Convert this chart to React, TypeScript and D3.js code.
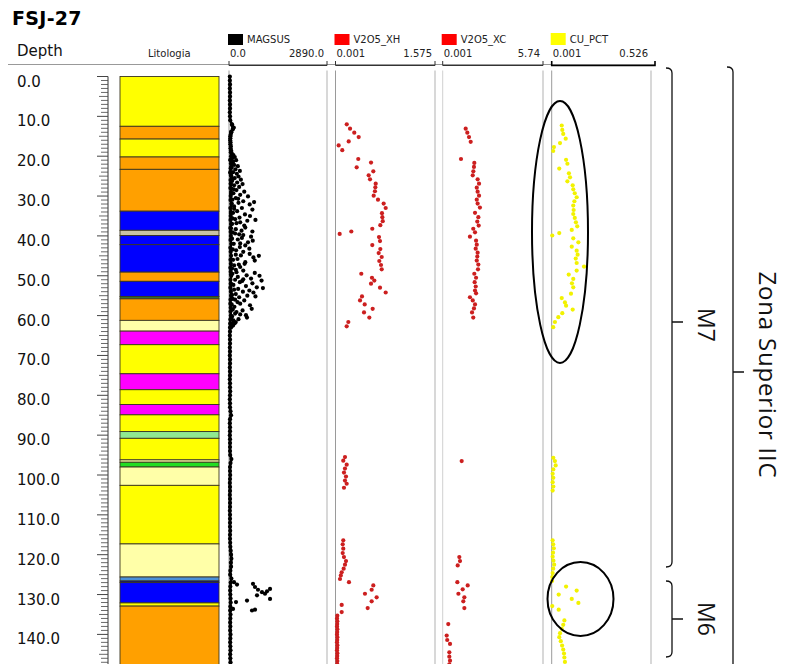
import React from "react";
import * as d3 from "d3";

// ---------- DATA ----------
const depthTicks = [0, 10, 20, 30, 40, 50, 60, 70, 80, 90, 100, 110, 120, 130, 140];

// lithology layers: [top, bottom, colour]
const lithoTops = [0, 12.5, 15.7, 20.2, 23.3, 33.8, 38.6, 39.9, 42.2, 49.1, 51.4, 55.2, 55.8, 61.2, 63.9, 67.3, 74.6, 78.6, 82.3, 84.9, 89.1, 90.8, 96.2, 96.8, 98.0, 102.6, 117.3, 125.6, 126.6, 127.0, 132.1, 132.9];
const lithoBottoms = [12.5, 15.7, 20.2, 23.3, 33.8, 38.6, 39.9, 42.2, 49.1, 51.4, 55.2, 55.8, 61.2, 63.9, 67.3, 74.6, 78.6, 82.3, 84.9, 89.1, 90.8, 96.2, 96.8, 98.0, 102.6, 117.3, 125.6, 126.6, 127.0, 132.1, 132.9, 150];
const lithoColors = ["#ffff00", "#ffa000", "#ffff00", "#ffa000", "#ffa000", "#0000ff", "#c9c3a4", "#0000ff", "#0000ff", "#ffa000", "#0000ff", "#2f6b2f", "#ffa000", "#ffffa8", "#ff00ff", "#ffff00", "#ff00ff", "#ffff00", "#ff00ff", "#ffff00", "#90e890", "#ffff00", "#ffffa8", "#22dd22", "#ffffa8", "#ffff00", "#ffffa8", "#4a90d9", "#10107a", "#0000ff", "#ffff00", "#ffa000"];

// MAGSUS baseline, one sample per metre from 0 m
const magsusBase = [
  25, 25, 30, 25, 30, 30, 25, 30, 30, 25, 30, 35,
  90, 120, 70, 40, 35, 40, 45, 55,
  60, 45, 70, 50, 40, 65, 45, 55, 40, 60, 50, 45, 70, 40, 55, 50, 45, 60, 40, 50, 55, 45, 65, 40, 50, 60, 45, 55, 40, 50, 65, 45, 50, 40, 55, 60, 45, 40, 50, 45, 55, 40, 35,
  30, 30, 25, 30, 30, 25, 30, 25, 30, 30,
  25, 30, 30, 25, 30, 30, 35, 30, 25, 30,
  30, 45, 60, 30, 25, 30, 30, 25, 30, 30,
  30, 30, 35, 70, 45, 30, 30, 35, 30, 25,
  30, 30, 25, 30, 30, 30, 25, 30, 30, 30,
  30, 35, 30, 30, 35, 40, 50, 60, 70, 55,
  60, 40, 35, 70, 50, 40, 35, 40, 45, 50,
  40, 35, 45, 40, 35, 40, 35, 45, 40, 35, 40, 45, 35, 40, 45,
];

// MAGSUS scattered samples [depth, value]
const magsusScatter: [number, number][] = [
  [12.2, 90], [12.8, 140], [13.3, 110], [13.9, 60], [14.6, 50], [15.5, 40], [16.5, 45], [17.5, 55], [18.5, 60], [19.2, 80], [19.7, 130], [20.2, 170], [20.6, 90], [21.0, 210], [21.4, 120], [21.8, 60],
  [22.2, 150], [22.5, 260], [22.9, 80], [23.3, 190], [23.7, 320], [24.0, 120], [24.4, 230], [24.8, 60], [25.1, 280], [25.5, 170], [25.9, 350], [26.2, 90], [26.6, 240], [27.0, 400], [27.3, 150], [27.7, 300], [28.1, 70], [28.5, 220],
  [28.9, 450], [29.3, 130], [29.7, 330], [30.1, 560], [30.5, 200], [30.9, 100], [31.3, 420], [31.7, 280], [32.1, 610], [32.6, 150], [33.0, 380], [33.4, 690],
  [33.8, 240], [34.2, 120], [34.6, 470], [35.0, 620], [35.4, 310], [35.8, 180], [36.2, 540], [36.6, 330], [37.0, 90], [37.4, 450], [37.9, 480], [38.3, 200], [38.7, 370], [39.1, 110], [39.4, 180], [39.8, 420],
  [40.2, 650], [40.5, 380], [40.9, 260], [41.2, 700], [41.6, 560], [42.0, 140], [42.4, 480], [42.8, 320], [43.2, 600], [43.6, 210], [44.0, 420], [44.5, 610], [44.9, 350], [45.4, 720], [45.8, 250], [46.2, 760], [46.6, 480], [47.0, 460], [47.4, 150],
  [47.8, 330], [48.2, 90], [48.7, 420], [49.1, 220], [49.5, 100], [49.9, 520], [50.3, 260], [50.7, 650], [51.0, 180], [51.3, 390], [51.6, 320], [51.9, 690], [52.3, 130], [52.6, 500], [52.9, 820], [53.3, 270], [53.7, 600], [54.0, 410], [54.2, 720], [54.6, 200], [55.0, 540], [55.4, 300],
  [55.8, 110], [56.2, 450], [56.6, 250], [57.0, 330], [57.4, 620], [57.8, 160], [58.3, 670], [58.7, 400], [59.1, 220], [59.5, 180], [59.9, 500], [60.2, 90], [60.5, 530], [60.9, 280], [61.2, 130], [61.6, 200], [62.0, 80], [62.5, 120], [63.0, 60],
  [20.9, 40], [22.7, 60], [24.2, 40], [25.7, 110], [26.9, 50], [28.3, 140], [29.5, 60], [30.7, 270], [31.9, 80], [33.2, 150], [34.4, 60], [35.6, 100], [36.8, 220], [38.1, 60], [39.6, 300], [40.7, 90], [41.9, 330], [43.4, 110], [44.7, 200], [46.0, 120], [47.2, 290], [48.5, 200], [49.7, 60], [50.9, 420], [52.1, 70], [53.5, 150], [54.8, 90], [56.0, 180], [57.2, 80], [58.5, 110], [59.7, 330], [60.7, 60], [61.9, 170],
  [45.0, 880], [50.0, 900], [51.2, 960], [53.1, 1000], [55.2, 780], [49.3, 760], [31.5, 740], [36.0, 780], [38.9, 690],
  [126.9, 148], [127.5, 236], [127.3, 708], [128.1, 767], [128.8, 855], [129.4, 973], [129.8, 1062], [128.6, 1210], [129.2, 1121], [130.2, 826], [131.1, 1210], [131.5, 531], [131.9, 207], [133.6, 118], [134.0, 679], [133.8, 767],
];

// V2O5_XH [depth, value]
const v2o5xh: [number, number][] = [
  [12.0, 0.179], [13.1, 0.231], [14.1, 0.298], [15.2, 0.368], [16.3, 0.21], [17.3, 0.051], [18.5, 0.108], [20.7, 0.361], [21.6, 0.563], [22.8, 0.336], [23.8, 0.599], [24.8, 0.526], [25.8, 0.547], [26.9, 0.637], [27.8, 0.631], [28.8, 0.625], [29.9, 0.605], [30.9, 0.673], [31.9, 0.763], [33.0, 0.795], [34.3, 0.736], [35.3, 0.742], [36.3, 0.748], [37.3, 0.71], [38.2, 0.583], [38.9, 0.251], [39.5, 0.067], [40.3, 0.689], [41.3, 0.705], [42.3, 0.583], [43.3, 0.71], [44.3, 0.684], [45.3, 0.732], [46.3, 0.694], [47.3, 0.721], [48.4, 0.732], [49.5, 0.409], [50.5, 0.578], [51.2, 0.615], [52.0, 0.563], [53.0, 0.705], [54.2, 0.795], [55.2, 0.42], [56.2, 0.389], [57.2, 0.463], [58.3, 0.589], [59.2, 0.452], [60.5, 0.536], [61.6, 0.204], [62.7, 0.178],
  [95.5, 0.151], [96.4, 0.124], [97.4, 0.178], [98.4, 0.151], [99.4, 0.135], [100.4, 0.167], [101.4, 0.151], [102.2, 0.178], [103.2, 0.135],
  [116.4, 0.124], [117.4, 0.115], [118.5, 0.124], [119.6, 0.115], [120.6, 0.135], [121.6, 0.167], [122.5, 0.151], [123.5, 0.13], [124.4, 0.099], [125.2, 0.085], [126.1, 0.072], [126.9, 0.214],
  [127.7, 0.599], [128.8, 0.573], [129.8, 0.467], [130.7, 0.652], [131.7, 0.573], [133.4, 0.51], [132.6, 0.099], [134.4, 0.099],
  [135.3, 0.03], [136.0, 0.025], [136.7, 0.03], [137.4, 0.028], [138.0, 0.025], [138.7, 0.03], [139.4, 0.028], [140.0, 0.025], [140.7, 0.03], [141.4, 0.028], [142.0, 0.025], [142.7, 0.03], [143.4, 0.028], [144.0, 0.025], [144.7, 0.03], [145.4, 0.028], [146.0, 0.025], [146.7, 0.03], [147.4, 0.028],
];

// V2O5_XC [depth, value]
const v2o5xc: [number, number][] = [
  [13.1, 1.316], [14.1, 1.41], [15.2, 1.506], [16.4, 1.603], [20.7, 1.047], [21.7, 1.81], [22.7, 1.79], [23.8, 1.755], [24.8, 1.72], [25.8, 2.0], [26.9, 2.08], [27.9, 1.95], [28.9, 2.0], [29.9, 2.08], [30.9, 1.95], [31.9, 2.0], [32.9, 2.13], [34.2, 1.85], [35.3, 2.04], [36.4, 1.98], [37.4, 2.06], [38.2, 1.75], [39.1, 1.85], [40.2, 1.56], [41.2, 1.91], [42.2, 1.95], [43.2, 1.89], [44.2, 2.0], [45.2, 1.98], [46.2, 1.95], [47.2, 2.04], [48.4, 2.02], [49.5, 1.81], [50.5, 1.91], [51.6, 1.83], [52.7, 1.89], [53.7, 1.85], [54.4, 1.91], [55.4, 1.56], [56.2, 1.72], [57.2, 1.85], [58.2, 1.79], [59.2, 1.68], [60.5, 1.75],
  [96.5, 1.087],
  [120.6, 0.952], [121.6, 0.99], [122.7, 0.86], [126.9, 0.84], [127.7, 1.43], [128.7, 1.145], [129.8, 0.9], [130.7, 1.24], [131.7, 1.18], [133.4, 1.24],
  [137.4, 0.32], [140.3, 0.23], [141.4, 0.26], [142.4, 0.42], [144.5, 0.38], [145.6, 0.38], [146.6, 0.42], [147.5, 0.38],
];

// CU_PCT [depth, value]
const cuPct: [number, number][] = [
  [12.3, 0.054], [13.4, 0.057], [14.4, 0.062], [15.6, 0.075], [16.7, 0.045], [17.7, 0.013], [18.7, 0.009], [20.9, 0.077], [21.9, 0.084], [23.1, 0.041], [24.3, 0.092], [25.3, 0.098], [26.3, 0.084], [27.3, 0.112], [28.3, 0.115], [29.3, 0.123], [30.3, 0.133], [31.3, 0.121], [32.4, 0.115], [33.5, 0.117], [34.5, 0.115], [35.5, 0.123], [36.6, 0.129], [37.6, 0.136], [38.5, 0.107], [39.3, 0.041], [39.9, 0.004], [40.6, 0.115], [41.6, 0.142], [42.7, 0.107], [43.7, 0.133], [44.7, 0.138], [45.7, 0.128], [46.8, 0.133], [47.7, 0.172], [48.7, 0.133], [49.7, 0.091], [50.8, 0.115], [51.9, 0.108], [52.9, 0.115], [54.5, 0.103], [55.6, 0.054], [56.7, 0.071], [57.5, 0.077], [58.5, 0.112], [59.4, 0.057], [60.4, 0.036], [61.6, 0.018], [62.9, 0.009],
  [95.7, 0.0095], [96.5, 0.018], [97.6, 0.022], [98.6, 0.0095], [99.7, 0.006], [100.7, 0.0095], [101.8, 0.006], [102.9, 0.0095], [103.9, 0.006],
  [116.4, 0.006], [117.4, 0.009], [118.4, 0.012], [119.5, 0.008], [120.5, 0.006], [121.5, 0.01], [122.5, 0.014], [123.5, 0.009], [124.6, 0.006], [125.6, 0.004], [126.6, 0.003],
  [128.0, 0.077], [129.0, 0.133], [130.0, 0.038], [131.1, 0.107], [132.1, 0.142], [132.9, 0.004], [133.8, 0.038],
  [136.5, 0.068], [137.6, 0.062], [138.6, 0.054], [139.7, 0.045], [140.7, 0.041], [141.7, 0.049], [142.8, 0.056], [143.8, 0.062], [144.8, 0.066], [145.8, 0.068], [146.9, 0.071],
];

// track definitions (name, scale ends)
const trackNames = ["MAGSUS", "V2O5_XH", "V2O5_XC", "CU_PCT"];
const trackMin = [0.0, 0.001, 0.001, 0.001];
const trackMax = [2890.0, 1.575, 5.74, 0.526];
const trackMinLabels = ["0.0", "0.001", "0.001", "0.001"];
const trackMaxLabels = ["2890.0", "1.575", "5.74", "0.526"];
const trackColors = ["#000000", "#ff0000", "#ff0000", "#ffff00"];

// ---------- LAYOUT ----------
const W = 787;
const H = 664;
const Y0 = 76.5;
const PXM = 3.985;
const depthMax = (H - Y0) / PXM;
const trackLeft = [229, 335.5, 442.7, 551.7];
const trackRight = [327, 435, 543, 651];
const FONT = "'DejaVu Sans', Verdana, sans-serif";
const FONT2 = "'Open Sans', 'Noto Sans', sans-serif";

export default function App() {
  const y = d3.scaleLinear().domain([0, depthMax]).range([Y0, H]);
  const xs = trackNames.map((_, i) =>
    d3.scaleLinear().domain([trackMin[i], trackMax[i]]).range([trackLeft[i], trackRight[i]])
  );
  const minorTicks = d3.range(0, Math.floor(depthMax) + 1, 1);

  const brace = (x: number, top: number, mid: number, bottom: number | null) => {
    let p = `M${x - 6},${top} Q${x},${top} ${x},${top + 5} L${x},${bottom === null ? H + 5 : bottom - 5}`;
    if (bottom !== null) p += ` Q${x},${bottom} ${x - 6},${bottom}`;
    p += ` M${x},${mid} L${x + 11},${mid}`;
    return p;
  };

  const baseLine = d3
    .line<number>()
    .x((v) => xs[0](v))
    .y((_, i) => y(i));

  const dotColor = ["#000000", "#cc1f1f", "#cc1f1f", "#f2f200"];
  const trackData: [number, number][][] = [
    [...magsusBase.map((v, i) => [i, v] as [number, number]), ...magsusScatter],
    v2o5xh,
    v2o5xc,
    cuPct,
  ];

  return (
    <div style={{ position: "fixed", left: 0, top: 0, width: W, height: H, background: "#fff" }}>
      <svg width={W} height={H} style={{ display: "block" }}>
        <rect x={0} y={0} width={W} height={H} fill="#fff" />
        {/* header */}
        <text x={12} y={25} fontFamily={FONT} fontWeight="bold" fontSize={19} letterSpacing={0.3}>FSJ-27</text>
        <text x={17} y={56} fontFamily={FONT} fontSize={15} fill="#111">Depth</text>
        <text x={148} y={57} fontFamily={FONT} fontSize={10} fill="#222">Litologia</text>
        <line x1={8} x2={655} y1={64.5} y2={64.5} stroke="#999" strokeWidth={1} />

        {trackNames.map((name, i) => {
          const l = trackLeft[i];
          const r = trackRight[i];
          return (
            <g key={name}>
              <rect x={l - 1} y={i === 3 ? 33 : 34} width={15} height={i === 3 ? 12 : 11} fill={trackColors[i]} />
              <text x={l + 18} y={43} fontFamily={FONT} fontSize={10} fill="#222">{name}</text>
              <text x={l + 1} y={57} fontFamily={FONT} fontSize={10} fill="#222">{trackMinLabels[i]}</text>
              <text x={r - 3} y={57} fontFamily={FONT} fontSize={10} fill="#222" textAnchor="end">{trackMaxLabels[i]}</text>
              <path
                d={`M${l},61 L${l},65.5 L${i === 3 ? r + 4 : r},65.5 L${i === 3 ? r + 4 : r},61`}
                fill="none"
                stroke={i === 3 ? "#000" : "#333"}
                strokeWidth={i === 3 ? 1.6 : 1}
              />
            </g>
          );
        })}

        {/* depth axis */}
        <line x1={108} x2={108} y1={Y0} y2={H} stroke="#333" strokeWidth={1} />
        {minorTicks.map((d) => (
          <line
            key={d}
            x1={d % 10 === 0 ? 97 : d % 5 === 0 ? 99 : 101}
            x2={108}
            y1={y(d)}
            y2={y(d)}
            stroke="#444"
            strokeWidth={d % 10 === 0 ? 1 : 0.8}
          />
        ))}
        {depthTicks.map((d) => (
          <text key={d} x={17} y={y(d) + 10} fontFamily={FONT} fontSize={15} fill="#111">
            {d.toFixed(1)}
          </text>
        ))}

        {/* lithology */}
        {lithoTops.map((t, i) => (
          <rect
            key={i}
            x={120}
            y={y(t)}
            width={99}
            height={Math.max(0, y(Math.min(lithoBottoms[i], depthMax + 1)) - y(t))}
            fill={lithoColors[i]}
            stroke="#3a3520"
            strokeWidth={0.9}
          />
        ))}

        {/* track frames */}
        {trackNames.map((name, i) => (
          <g key={"f" + name}>
            <line x1={trackLeft[i]} x2={trackLeft[i]} y1={Y0 - 6} y2={H} stroke={i === 2 ? "#d0d0d0" : "#9a9a9a"} strokeWidth={1} />
            <line x1={trackRight[i]} x2={trackRight[i]} y1={Y0 - 6} y2={H} stroke="#cfcfcf" strokeWidth={1.6} />
          </g>
        ))}

        {/* data */}
        <path d={baseLine(magsusBase) || ""} fill="none" stroke="#000" strokeWidth={2.6} />
        {trackData.map((arr, i) => (
          <g key={"d" + i} fill={dotColor[i]}>
            {arr.map(([d, v], j) => (
              <circle key={j} cx={xs[i](v)} cy={y(d)} r={i === 0 ? 2.1 : 2.1} />
            ))}
          </g>
        ))}

        {/* highlight ellipses */}
        <ellipse cx={560} cy={232} rx={28} ry={131} fill="none" stroke="#000" strokeWidth={2} />
        <ellipse cx={580.5} cy={599} rx={33} ry={37} fill="none" stroke="#000" strokeWidth={2} />

        {/* braces */}
        <path d={brace(672, 68, 322, 567)} fill="none" stroke="#111" strokeWidth={1.3} />
        <path d={brace(672, 581, 619, 657)} fill="none" stroke="#111" strokeWidth={1.3} />
        <path d={brace(733, 67, 372, null)} fill="none" stroke="#111" strokeWidth={1.3} />

        <text transform={`translate(707,325) rotate(90)`} fontFamily={FONT2} fontSize={23} textAnchor="middle" dominantBaseline="central" fill="#111">M7</text>
        <text transform={`translate(707,619) rotate(90)`} fontFamily={FONT2} fontSize={23} textAnchor="middle" dominantBaseline="central" fill="#111">M6</text>
        <text transform={`translate(768,375) rotate(90)`} fontFamily={FONT2} fontSize={24} letterSpacing={0.8} textAnchor="middle" dominantBaseline="central" fill="#111">Zona Superior IIC</text>
      </svg>
    </div>
  );
}
